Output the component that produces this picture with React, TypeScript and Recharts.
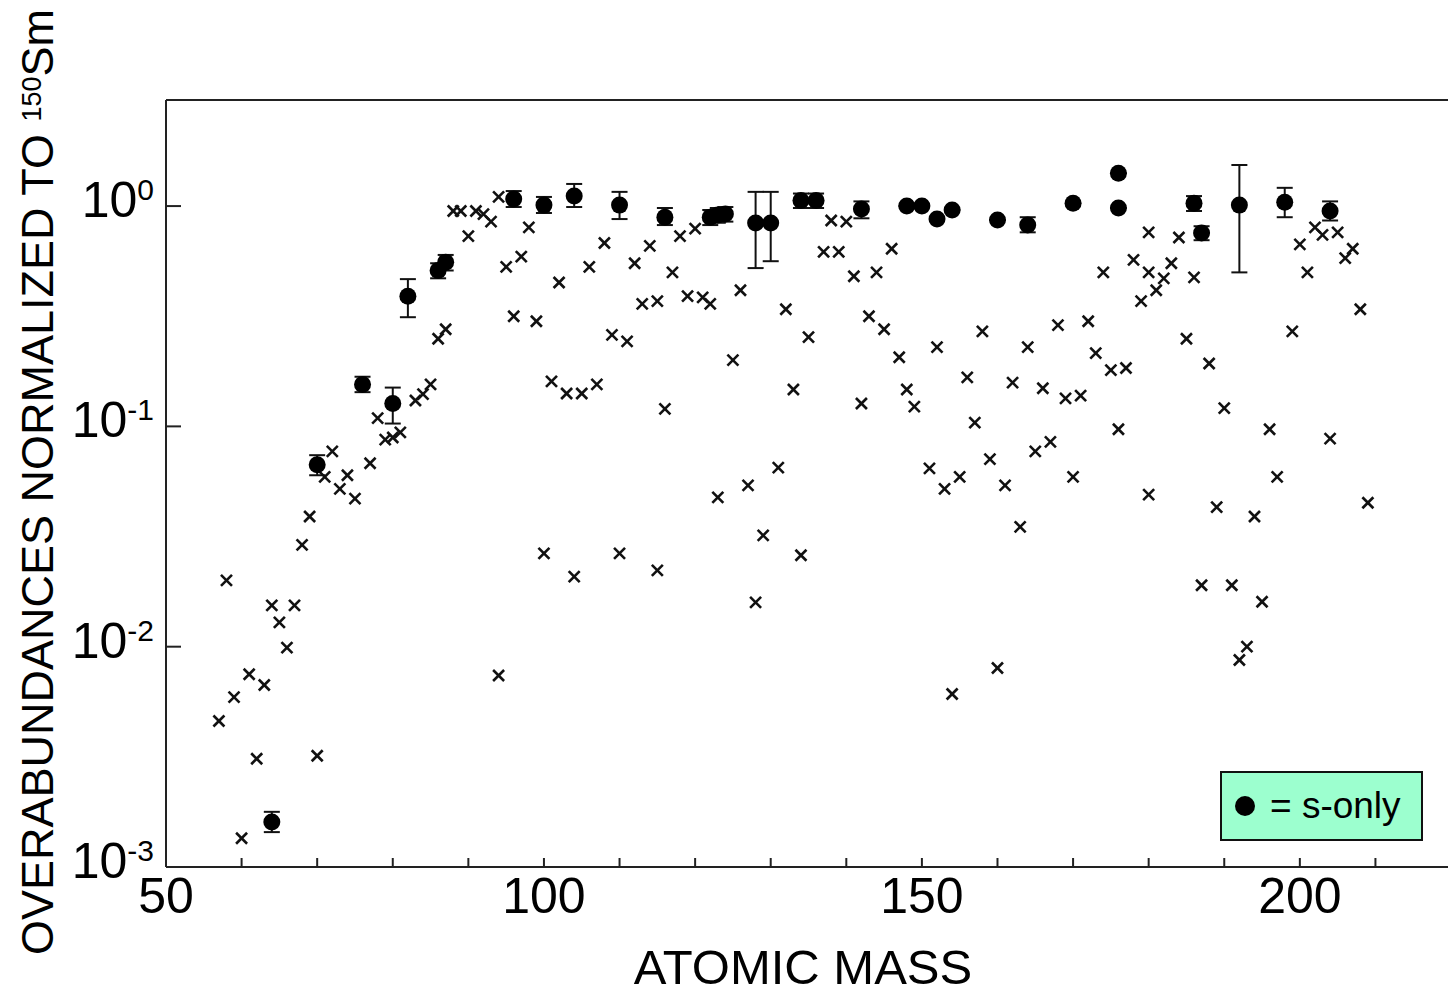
import { ScatterChart, Scatter, XAxis, YAxis, ErrorBar, Legend } from 'recharts';

const FONT = '"Liberation Sans", Arial, Helvetica, sans-serif';

// x ticks every 10, labels every 50
const massTicks = [50, 60, 70, 80, 90, 100, 110, 120, 130, 140, 150, 160, 170, 180, 190, 200, 210];
const massLabels = [50, 100, 150, 200];
const abundanceTicks = [0.001, 0.01, 0.1, 1];

// s-only isotopes (filled circles) with error bar bounds
const sOnlyMass = [64, 70, 76, 80, 82, 86, 87, 96, 100, 104, 110, 116, 122, 123, 124, 128, 130, 134, 136, 142, 148, 150, 152, 154, 160, 164, 170, 176, 176, 186, 187, 192, 198, 204];
const sOnlyValue = [0.0016, 0.067, 0.155, 0.127, 0.39, 0.51, 0.556, 1.076, 1.01, 1.11, 1.01, 0.89, 0.89, 0.91, 0.92, 0.837, 0.837, 1.06, 1.06, 0.97, 1.0, 1.0, 0.873, 0.96, 0.864, 0.82, 1.03, 1.41, 0.98, 1.03, 0.754, 1.01, 1.04, 0.95];
const sOnlyLow = [0.00144, 0.06, 0.143, 0.103, 0.313, 0.47, 0.51, 0.99, 0.93, 0.99, 0.873, 0.82, 0.82, 0.84, 0.85, 0.523, 0.562, 0.98, 0.98, 0.88, 1.0, 1.0, 0.873, 0.96, 0.864, 0.76, 1.03, 1.41, 0.98, 0.95, 0.7, 0.5, 0.89, 0.86];
const sOnlyHigh = [0.00178, 0.074, 0.168, 0.15, 0.466, 0.55, 0.6, 1.17, 1.1, 1.26, 1.16, 0.98, 0.96, 0.98, 0.99, 1.16, 1.16, 1.14, 1.14, 1.05, 1.0, 1.0, 0.873, 0.96, 0.864, 0.89, 1.03, 1.41, 0.98, 1.11, 0.81, 1.536, 1.21, 1.05];

// all other isotopes (crosses)
const otherMass = [
  57, 58, 59, 60, 61, 62, 63, 64, 65, 66,
  67, 68, 69, 70, 71, 72, 73, 74, 75, 77,
  78, 79, 80, 81, 83, 84, 85, 86, 87, 88,
  89, 90, 91, 92, 93, 94, 94, 95, 96, 97,
  98, 99, 100, 101, 102, 103, 104, 105, 106, 107,
  108, 109, 110, 111, 112, 113, 114, 115, 115, 116,
  117, 118, 119, 120, 121, 122, 123, 125, 126, 127,
  128, 129, 131, 132, 133, 134, 135, 137, 138, 139,
  140, 141, 142, 143, 144, 145, 146, 147, 148, 149,
  151, 152, 153, 154, 155, 156, 157, 158, 159, 160,
  161, 162, 163, 164, 165, 166, 167, 168, 169, 170,
  171, 172, 173, 174, 175, 176, 177, 178, 179, 180,
  180, 180, 181, 182, 183, 184, 185, 186, 187, 188,
  189, 190, 191, 192, 193, 194, 195, 196, 197, 199,
  200, 201, 202, 203, 204, 205, 206, 207, 208, 209,
];
const otherValue = [
  0.0046, 0.02, 0.0059, 0.00135, 0.0075, 0.0031, 0.0067, 0.0154, 0.0129, 0.0099,
  0.0154, 0.029, 0.039, 0.0032, 0.059, 0.077, 0.052, 0.06, 0.047, 0.068,
  0.109, 0.087, 0.089, 0.094, 0.131, 0.14, 0.155, 0.25, 0.276, 0.95,
  0.95, 0.73, 0.95, 0.92, 0.85, 1.1, 0.0074, 0.53, 0.316, 0.59,
  0.8, 0.3, 0.0265, 0.16, 0.45, 0.141, 0.0208, 0.141, 0.53, 0.155,
  0.68, 0.26, 0.0265, 0.243, 0.55, 0.36, 0.66, 0.37, 0.0222, 0.12,
  0.5, 0.73, 0.39, 0.79, 0.385, 0.36, 0.0476, 0.2, 0.415, 0.054,
  0.0159, 0.032, 0.065, 0.34, 0.147, 0.026, 0.254, 0.62, 0.86, 0.62,
  0.85, 0.48, 0.127, 0.316, 0.5, 0.276, 0.64, 0.206, 0.147, 0.123,
  0.0645, 0.229, 0.052, 0.0061, 0.059, 0.167, 0.104, 0.27, 0.071, 0.008,
  0.054, 0.158, 0.035, 0.229, 0.077, 0.149, 0.085, 0.288, 0.134, 0.059,
  0.138, 0.3, 0.215, 0.5, 0.18, 0.097, 0.184, 0.57, 0.37, 0.76,
  0.5, 0.049, 0.415, 0.47, 0.55, 0.72, 0.25, 0.475, 0.019, 0.193,
  0.043, 0.121, 0.019, 0.0087, 0.01, 0.039, 0.016, 0.097, 0.059, 0.27,
  0.67, 0.5, 0.8, 0.74, 0.088, 0.76, 0.58, 0.64, 0.34, 0.045,
];

const sOnlyData = sOnlyMass.map((mass, i) => ({
  mass,
  value: sOnlyValue[i],
  err: [sOnlyValue[i] - sOnlyLow[i], sOnlyHigh[i] - sOnlyValue[i]],
}));
const otherData = otherMass.map((mass, i) => ({ mass, value: otherValue[i] }));

const AXIS = '#222';

const Dot = (props: any) => <circle cx={props.cx} cy={props.cy} r={8.5} fill="#000" />;

const Cross = (props: any) => {
  const { cx, cy } = props;
  const d = 5.5;
  return (
    <g stroke="#111" strokeWidth={2.6}>
      <line x1={cx - d} y1={cy - d} x2={cx + d} y2={cy + d} />
      <line x1={cx - d} y1={cy + d} x2={cx + d} y2={cy - d} />
    </g>
  );
};

const BottomTick = (props: any) => {
  const { x, y, payload } = props;
  return (
    <g>
      <line x1={x} y1={y} x2={x} y2={y - 9} stroke={AXIS} strokeWidth={2} />
      {massLabels.includes(payload.value) && (
        <text x={x} y={y + 46} textAnchor="middle" fontSize={50} fontFamily={FONT} fill="#000">
          {payload.value}
        </text>
      )}
    </g>
  );
};

const TopTick = (props: any) => {
  const { x, y } = props;
  return <line x1={x} y1={y} x2={x} y2={y + 9} stroke={AXIS} strokeWidth={2} />;
};

const LeftTick = (props: any) => {
  const { x, y, payload } = props;
  const exp = Math.round(Math.log10(payload.value));
  return (
    <g>
      <line x1={x} y1={y} x2={x + 15} y2={y} stroke={AXIS} strokeWidth={2} />
      <text x={x - 12} y={y + 11} textAnchor="end" fontSize={50} fontFamily={FONT} fill="#000">
        10
        <tspan dy={-17} fontSize={30}>{exp}</tspan>
      </text>
    </g>
  );
};

const RightTick = (props: any) => {
  const { x, y } = props;
  return <line x1={x} y1={y} x2={x - 14} y2={y} stroke={AXIS} strokeWidth={2} />;
};

const YTitle = () => (
  <text x={53} y={482} transform="rotate(-90 53 482)" textAnchor="middle" fontSize={45} fontFamily={FONT} fill="#000">
    OVERABUNDANCES NORMALIZED TO{' '}
    <tspan dy={-12} fontSize={27}>150</tspan>
    <tspan dy={12}>Sm</tspan>
  </text>
);

const XTitle = () => (
  <text x={803} y={984} textAnchor="middle" fontSize={49} fontFamily={FONT} fill="#000">
    ATOMIC MASS
  </text>
);

const LegendBox = () => (
  <div
    style={{
      width: 203,
      height: 70,
      boxSizing: 'border-box',
      background: '#9CFFCF',
      border: '2px solid #111',
      display: 'flex',
      alignItems: 'center',
      fontFamily: FONT,
      fontSize: 37,
      color: '#000',
    }}
  >
    <svg width={20} height={20} style={{ marginLeft: 13 }}>
      <circle cx={10} cy={10} r={10} fill="#000" />
    </svg>
    <span style={{ marginLeft: 15, whiteSpace: 'nowrap' }}>= s-only</span>
  </div>
);

export default function App() {
  return (
    <div style={{ position: 'absolute', left: 0, top: 0, fontFamily: FONT }}>
      <ScatterChart width={1448} height={995} margin={{ top: 70, right: 0, bottom: 0, left: 0 }}>
        <XAxis
          dataKey="mass"
          type="number"
          scale="linear"
          domain={[50, 219.6]}
          allowDataOverflow
          ticks={massTicks}
          interval={0}
          height={128}
          tickSize={0}
          tickMargin={0}
          tick={<BottomTick />}
          tickLine={false}
          axisLine={{ stroke: AXIS, strokeWidth: 2 }}
          label={<XTitle />}
        />
        <XAxis
          xAxisId="top"
          orientation="top"
          type="number"
          domain={[50, 219.6]}
          allowDataOverflow
          ticks={massTicks}
          interval={0}
          height={30}
          tickSize={0}
          tickMargin={0}
          tick={<TopTick />}
          tickLine={false}
          axisLine={{ stroke: AXIS, strokeWidth: 2 }}
        />
        <YAxis
          dataKey="value"
          type="number"
          scale="log"
          domain={[0.001, 3.03]}
          allowDataOverflow
          ticks={abundanceTicks}
          interval={0}
          width={166}
          tickSize={0}
          tickMargin={0}
          tick={<LeftTick />}
          tickLine={false}
          axisLine={{ stroke: AXIS, strokeWidth: 2 }}
          label={<YTitle />}
        />
        <YAxis
          yAxisId="right"
          orientation="right"
          type="number"
          scale="log"
          domain={[0.001, 3.03]}
          allowDataOverflow
          ticks={abundanceTicks}
          interval={0}
          width={0}
          tickSize={0}
          tickMargin={0}
          tick={<RightTick />}
          tickLine={false}
          axisLine={{ stroke: AXIS, strokeWidth: 2 }}
        />
        <Legend
          layout="horizontal"
          verticalAlign="middle"
          align="center"
          content={<LegendBox />}
          wrapperStyle={{ left: 1220, top: 771, width: 203, height: 70 }}
        />
        <Scatter name="other" data={otherData} shape={<Cross />} isAnimationActive={false} legendType="none" />
        <Scatter name="s-only" data={sOnlyData} shape={<Dot />} isAnimationActive={false}>
          <ErrorBar dataKey="err" direction="y" width={8} stroke="#111" strokeWidth={2} isAnimationActive={false} />
        </Scatter>
      </ScatterChart>
    </div>
  );
}
